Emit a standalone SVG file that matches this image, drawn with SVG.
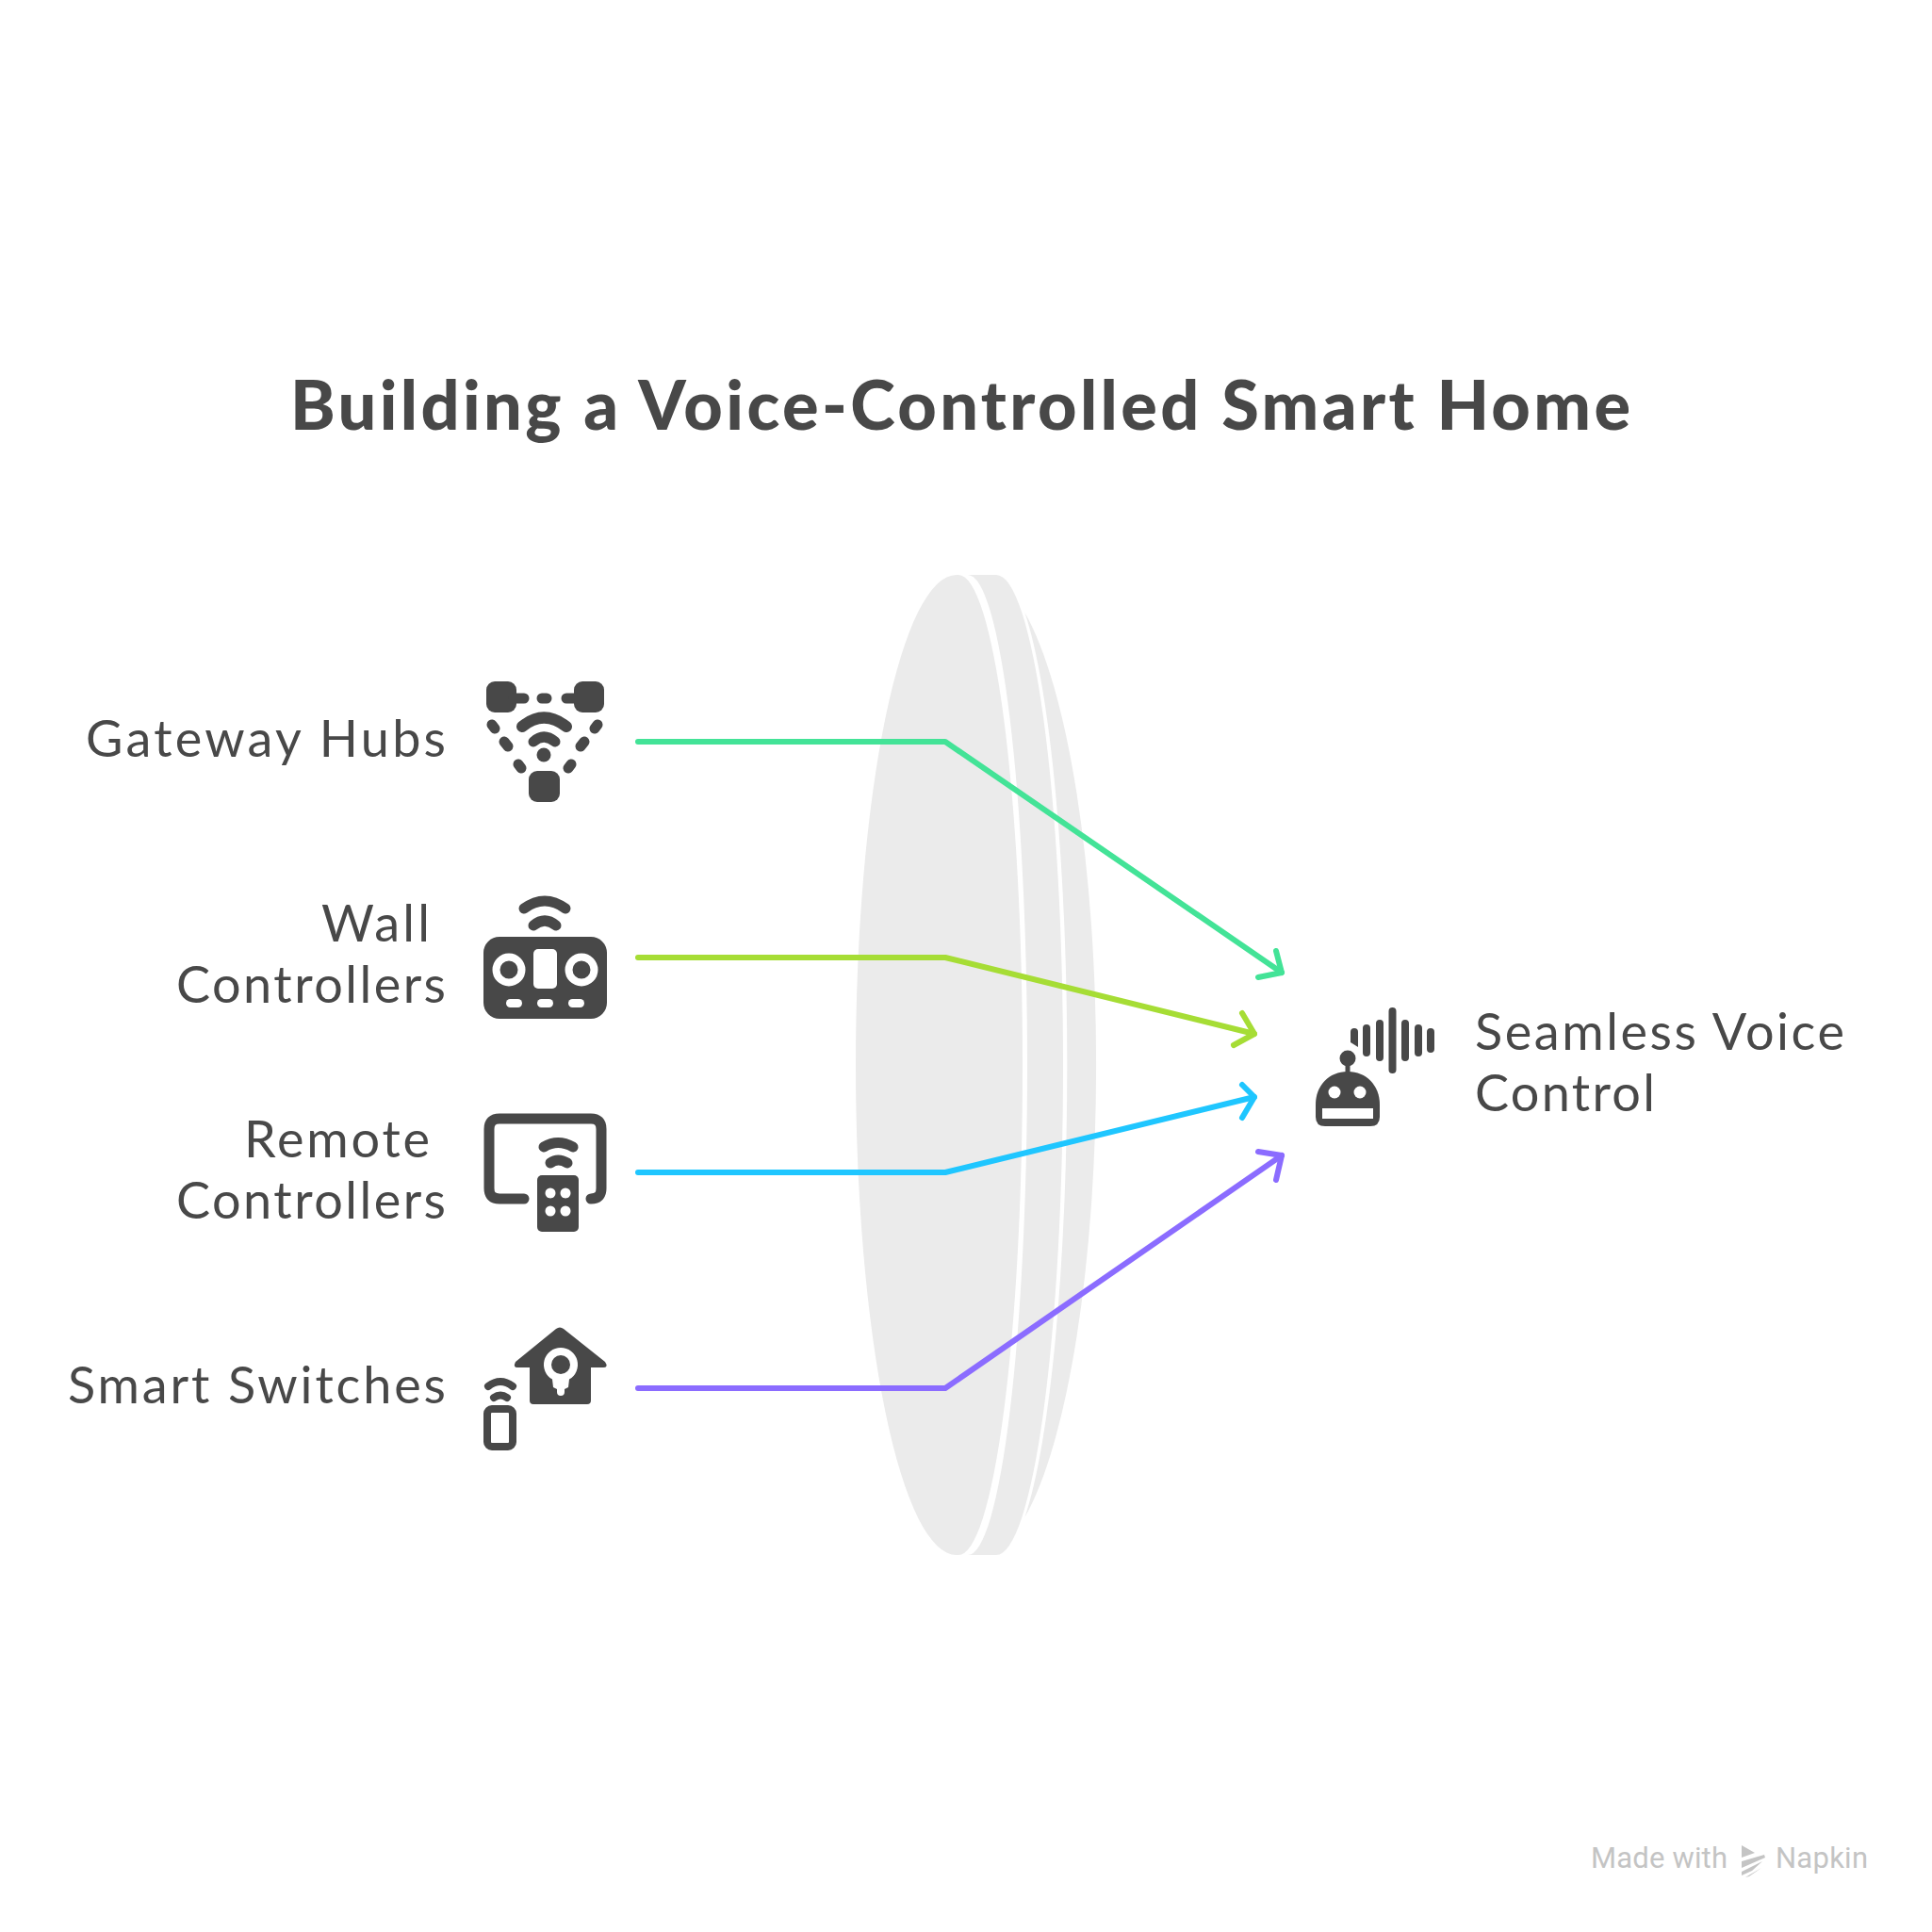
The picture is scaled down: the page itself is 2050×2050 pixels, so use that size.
<svg xmlns="http://www.w3.org/2000/svg" width="2050" height="2050" viewBox="0 0 2050 2050">
<style>
.t{font-family:"Lato","Open Sans",sans-serif;font-size:54px;fill:#484848}
.title{font-family:"Lato","Open Sans",sans-serif;font-size:72px;font-weight:900;fill:#484848}
.w{font-family:"Roboto","Open Sans",sans-serif;font-size:31px;font-weight:400;fill:#c4c4c4}
.i{fill:#484848}
.s{fill:none;stroke:#484848;stroke-linecap:round;stroke-linejoin:round}
.c{fill:none;stroke-width:6;stroke-linecap:round;stroke-linejoin:round}
.lens{fill:#ebebeb}
</style>
<rect width="2050" height="2050" fill="#fff"/>
<g id="title"><text class="title" x="308" y="456" textLength="1422" lengthAdjust="spacing">Building a Voice-Controlled Smart Home</text></g>
<g id="lens">
<path class="lens" d="M1087.400 650A123 520 0 0 1 1087.400 1610A73 520 0 0 0 1087.400 650Z"/>
<path class="lens" d="M1027 610H1057A71 520 0 0 1 1057 1650H1027A63 520 0 0 0 1027 610Z"/>
<path class="lens" d="M1017 610H1015A107 520 0 0 0 1015 1650H1017A68 520 0 0 0 1017 610Z"/>
</g>
<g id="connectors">
<g class="c" stroke="#43e397"><path d="M677 787H1003L1360 1032"/><path d="M1354 1009L1360 1032L1335 1037"/></g>
<g class="c" stroke="#a6dd35"><path d="M677 1016H1003L1331 1097"/><path d="M1318 1075L1331 1097L1309 1109"/></g>
<g class="c" stroke="#1fc6ff"><path d="M677 1244H1003L1331 1164"/><path d="M1318 1151L1331 1164L1318 1186"/></g>
<g class="c" stroke="#8b6cff"><path d="M677 1473H1003L1360 1226"/><path d="M1335 1222L1360 1226L1354 1252"/></g>
</g>
<g id="node-gateway">
<text class="t" x="473" y="803" text-anchor="end" textLength="382" lengthAdjust="spacing">Gateway Hubs</text>
<rect class="i" x="516" y="723" width="32" height="33" rx="9"/><rect class="i" x="609" y="723" width="32" height="33" rx="9"/><rect class="i" x="561" y="818" width="33" height="33" rx="9"/>
<g class="s" stroke-width="11"><path d="M545 741H556M575 741H580M601 741H611M522 769L525 773M535 787L539 792M550 811L553 815M634 769L631 773M620 787L616 792M606 811L603 815"/>
<path d="M554 771Q577 752 601 771" stroke-width="12"/><path d="M566 787Q577 777 589 787"/></g>
<circle class="i" cx="577" cy="801" r="7.500"/>
</g>
<g id="node-wall">
<text class="t" x="456" y="999" text-anchor="end" textLength="115" lengthAdjust="spacing">Wall</text>
<text class="t" x="473" y="1064" text-anchor="end" textLength="286" lengthAdjust="spacing">Controllers</text>
<g class="s" stroke-width="11"><path d="M556 964Q578 948 600 964"/><path d="M566 982Q578 972 590 982"/></g>
<rect class="i" x="513" y="994" width="131" height="87" rx="17"/>
<rect x="566" y="1007" width="25" height="42" rx="5" fill="#fff"/>
<circle cx="540" cy="1029" r="13.500" fill="#484848" stroke="#fff" stroke-width="8"/>
<circle cx="617" cy="1029" r="13.500" fill="#484848" stroke="#fff" stroke-width="8"/>
<rect x="537" y="1060" width="17" height="9" rx="4.500" fill="#fff"/><rect x="570" y="1060" width="17" height="9" rx="4.500" fill="#fff"/><rect x="603" y="1060" width="17" height="9" rx="4.500" fill="#fff"/>
</g>
<g id="node-remote">
<text class="t" x="456" y="1228" text-anchor="end" textLength="197" lengthAdjust="spacing">Remote</text>
<text class="t" x="473" y="1293" text-anchor="end" textLength="286" lengthAdjust="spacing">Controllers</text>
<path class="s" stroke-width="11" d="M556 1272H530Q519 1272 519 1261V1198Q519 1187 530 1187H627Q638 1187 638 1198V1261Q638 1272 627 1272"/>
<g class="s" stroke-width="11"><path d="M577 1217Q592 1208 608 1217"/><path d="M584 1234Q592 1228 602 1234"/></g>
<rect class="i" x="570" y="1247" width="44" height="60" rx="5"/>
<g fill="#fff"><circle cx="584" cy="1266" r="5.500"/><circle cx="600" cy="1266" r="5.500"/><circle cx="584" cy="1285" r="5.500"/><circle cx="600" cy="1285" r="5.500"/></g>
</g>
<g id="node-switches">
<text class="t" x="473" y="1489" text-anchor="end" textLength="401" lengthAdjust="spacing">Smart Switches</text>
<path class="i" d="M598 1410L642 1445Q646 1451 640 1451H627V1486Q627 1490 623 1490H566Q562 1490 562 1486V1451H549Q544 1451 547 1445L590 1410Q594 1407 598 1410Z"/>
<path d="M595 1430a18 18 0 0 1 9 33.600L603 1472L599 1474V1477a4 4 0 0 1-8 0V1474L587 1472L586 1463.600a18 18 0 0 1 9-33.600Z" fill="#fff"/>
<circle class="i" cx="595" cy="1448" r="10"/>
<g class="s" stroke-width="8"><path d="M518 1471Q531 1461 544 1471"/><path d="M524 1483Q531 1478 538 1483"/></g>
<rect x="517" y="1495" width="27" height="40" rx="5" fill="none" stroke="#484848" stroke-width="8"/>
</g>
<g id="node-voice">
<text class="t" x="1565" y="1114" textLength="392" lengthAdjust="spacing">Seamless Voice</text>
<text class="t" x="1565" y="1179" textLength="191" lengthAdjust="spacing">Control</text>
<path class="i" d="M1396 1185V1172C1396 1152 1410 1137 1430 1137S1464 1152 1464 1172V1185Q1464 1195 1454 1195H1406Q1396 1195 1396 1185Z"/>
<rect class="i" x="1427.500" y="1125" width="5" height="15"/><circle class="i" cx="1430" cy="1123" r="8.500"/>
<g fill="#fff"><circle cx="1416" cy="1159" r="6.500"/><circle cx="1443" cy="1159" r="6.500"/><rect x="1403" y="1176" width="54" height="11"/></g>
<path class="i" d="M1433 1095a4 4 0 0 1 8 0V1111L1433 1106Z"/>
<g class="s" stroke-width="8"><path d="M1450 1091V1117M1464 1086V1122M1477.500 1073V1135M1491 1086V1122M1505 1091V1117M1518 1095V1113"/></g>
</g>
<g id="watermark">
<text class="w" x="1688" y="1982" textLength="145" lengthAdjust="spacing">Made with</text>
<text class="w" x="1884" y="1982" textLength="98" lengthAdjust="spacing">Napkin</text>
<path fill="#c4c4c4" d="M1848 1958L1862 1966L1848 1971ZM1848 1975L1872 1968L1873 1971L1848 1982ZM1848 1986L1870 1975L1859 1985L1848 1990ZM1852 1992L1869 1982L1856 1991Z"/>
</g>
</svg>
